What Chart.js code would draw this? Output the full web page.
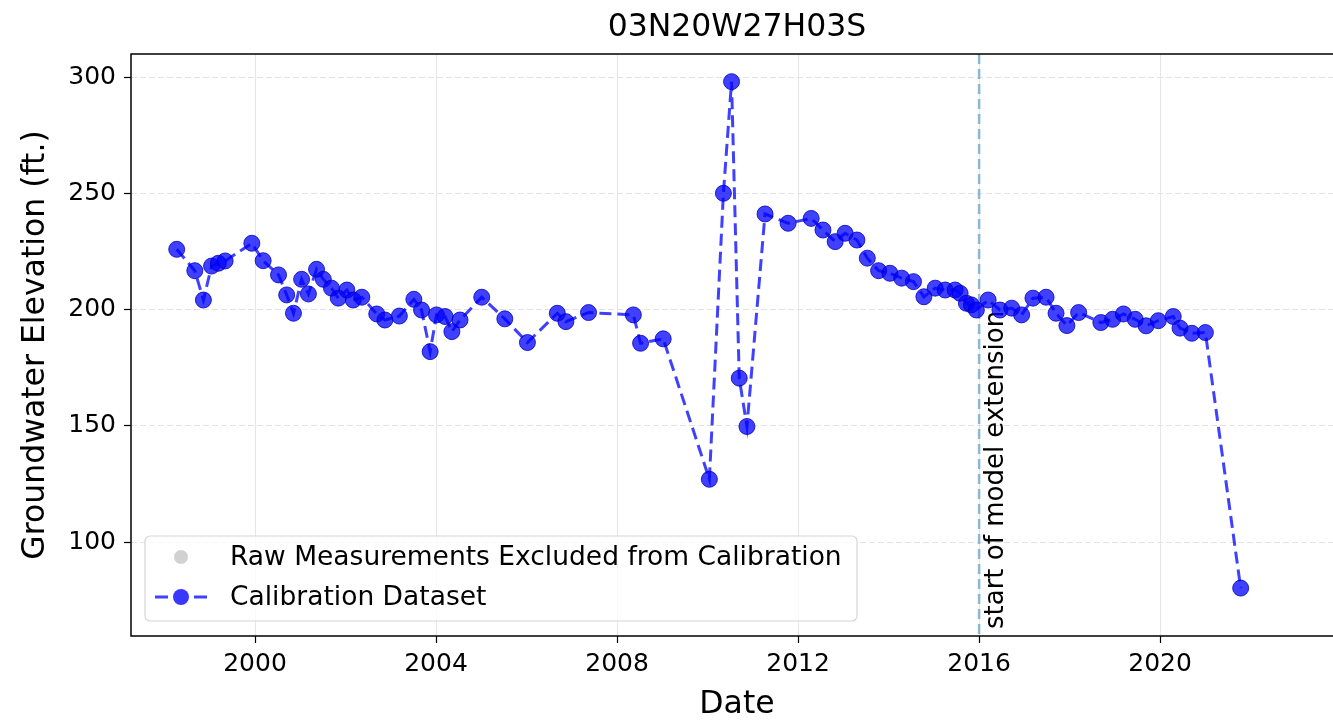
<!DOCTYPE html>
<html>
<head>
<meta charset="utf-8">
<script src="https://cdn.jsdelivr.net/npm/chart.js@4.4.0/dist/chart.umd.min.js"></script>
<style>
html,body{margin:0;overflow:hidden;background:#fff}
#wrap{width:1333px;height:723px}
</style>
</head>
<body>
<div id="wrap"><canvas id="chart" width="1333" height="723"></canvas></div>
<script>
// decimal years / groundwater elevation (ft.)
const dates = [1998.27,1998.67,1998.86,1999.04,1999.19,1999.34,1999.93,2000.18,2000.52,2000.70,
  2000.85,2001.03,2001.18,2001.36,2001.51,2001.69,2001.84,2002.03,2002.17,2002.36,
  2002.69,2002.87,2003.19,2003.51,2003.68,2003.87,2004.01,2004.20,2004.35,2004.53,
  2005.01,2005.52,2006.02,2006.68,2006.87,2007.37,2008.36,2008.52,2009.02,2010.04,
  2010.35,2010.53,2010.70,2010.87,2011.27,2011.78,2012.29,2012.55,2012.82,2013.04,
  2013.30,2013.53,2013.78,2014.03,2014.29,2014.55,2014.78,2015.03,2015.25,2015.47,
  2015.58,2015.72,2015.83,2015.94,2016.20,2016.46,2016.72,2016.94,2017.19,2017.48,
  2017.70,2017.94,2018.20,2018.69,2018.95,2019.19,2019.45,2019.69,2019.96,2020.29,
  2020.44,2020.70,2021.00,2021.78];
const elevation = [225.9,216.7,204.1,218.7,219.9,220.9,228.5,221.0,214.9,206.3,
  198.4,213.0,206.7,217.3,213.0,209.2,204.9,208.4,204.1,205.3,
  198.1,195.5,197.2,204.4,199.8,181.9,197.7,197.0,190.5,195.5,
  205.3,196.0,185.8,198.4,194.8,198.7,197.7,185.5,187.4,127.0,
  250.0,298.0,170.5,149.7,241.1,237.1,239.2,234.2,229.2,232.8,
  229.9,222.1,216.7,215.6,213.5,212.0,205.5,209.2,208.4,208.4,
  207.0,202.7,202.0,199.8,204.1,199.8,200.6,197.7,204.9,205.3,
  198.4,193.1,198.7,194.4,195.8,198.1,195.8,193.0,195.2,197.0,
  192.0,189.8,190.1,80.2];
const rawDates = [];
const rawElevation = [];
const yearTicks = [2000,2004,2008,2012,2016,2020];
const elevTicks = [100,150,200,250,300];
const extensionYear = 2016;

const FONT = "'DejaVu Sans', sans-serif";
const toPoints = (xs, ys) => xs.map((x, i) => ({x: x, y: ys[i]}));

const overlay = {
  id: 'overlay',
  beforeDatasetsDraw(chart) {
    const {ctx, chartArea, scales} = chart;
    const x = scales.x.getPixelForValue(extensionYear);
    ctx.save();
    ctx.strokeStyle = 'rgba(125,172,202,0.85)';
    ctx.lineWidth = 2.5;
    ctx.setLineDash([10, 5]);
    ctx.beginPath();
    ctx.moveTo(x, chartArea.top);
    ctx.lineTo(x, chartArea.bottom);
    ctx.stroke();
    ctx.setLineDash([]);
    ctx.translate(x + 24, chartArea.bottom - 7);
    ctx.rotate(-Math.PI / 2);
    ctx.fillStyle = '#000';
    ctx.font = '26px ' + FONT;
    ctx.textAlign = 'left';
    ctx.textBaseline = 'alphabetic';
    ctx.fillText('start of model extension', 0, 0);
    ctx.restore();
  },
  afterDraw(chart) {
    const {ctx, chartArea} = chart;
    const cx = 737;
    ctx.save();
    // frame (right side runs off the picture)
    ctx.strokeStyle = '#000';
    ctx.lineWidth = 1.5;
    ctx.beginPath();
    ctx.moveTo(chartArea.right + 2, chartArea.top);
    ctx.lineTo(chartArea.left, chartArea.top);
    ctx.lineTo(chartArea.left, chartArea.bottom);
    ctx.lineTo(chartArea.right + 2, chartArea.bottom);
    ctx.stroke();
    // titles
    ctx.fillStyle = '#000';
    ctx.textAlign = 'center';
    ctx.textBaseline = 'middle';
    ctx.font = '31.5px ' + FONT;
    ctx.fillText('03N20W27H03S', cx, 28);
    ctx.fillText('Date', cx, 705);
    ctx.save();
    ctx.translate(36, (chartArea.top + chartArea.bottom) / 2);
    ctx.rotate(-Math.PI / 2);
    ctx.fillText('Groundwater Elevation (ft.)', 0, 0);
    ctx.restore();
    // legend
    const bx = 145, by = 536, bw = 712, bh = 85, r = 5;
    ctx.beginPath();
    ctx.moveTo(bx + r, by);
    ctx.arcTo(bx + bw, by, bx + bw, by + bh, r);
    ctx.arcTo(bx + bw, by + bh, bx, by + bh, r);
    ctx.arcTo(bx, by + bh, bx, by, r);
    ctx.arcTo(bx, by, bx + bw, by, r);
    ctx.closePath();
    ctx.fillStyle = 'rgba(255,255,255,0.8)';
    ctx.fill();
    ctx.strokeStyle = '#d6d6d6';
    ctx.lineWidth = 1.2;
    ctx.stroke();
    ctx.fillStyle = 'rgba(190,190,190,0.7)';
    ctx.beginPath();
    ctx.arc(181, 557, 7, 0, Math.PI * 2);
    ctx.fill();
    ctx.strokeStyle = 'rgba(0,0,255,0.75)';
    ctx.lineWidth = 3;
    ctx.beginPath();
    ctx.moveTo(155, 597); ctx.lineTo(168, 597);
    ctx.moveTo(194, 597); ctx.lineTo(207, 597);
    ctx.stroke();
    ctx.fillStyle = 'rgba(0,0,255,0.78)';
    ctx.beginPath();
    ctx.arc(181, 597, 8, 0, Math.PI * 2);
    ctx.fill();
    ctx.fillStyle = '#000';
    ctx.textAlign = 'left';
    ctx.font = '26.5px ' + FONT;
    ctx.fillText('Raw Measurements Excluded from Calibration', 230, 558);
    ctx.fillText('Calibration Dataset', 230, 598);
    ctx.restore();
  }
};

new Chart(document.getElementById('chart'), {
  type: 'scatter',
  data: {
    datasets: [{
      label: 'Raw Measurements Excluded from Calibration',
      data: toPoints(rawDates, rawElevation),
      pointBackgroundColor: 'rgba(190,190,190,0.7)',
      pointBorderWidth: 0,
      pointRadius: 7,
      showLine: false
    }, {
      label: 'Calibration Dataset',
      data: toPoints(dates, elevation),
      showLine: true,
      borderColor: 'rgba(0,0,255,0.75)',
      borderWidth: 3,
      borderDash: [12, 6],
      pointRadius: 8,
      pointBackgroundColor: 'rgba(0,0,255,0.75)',
      pointBorderColor: 'rgba(0,0,190,0.8)',
      pointBorderWidth: 1
    }]
  },
  options: {
    responsive: false,
    animation: false,
    layout: {autoPadding: false, padding: {top: 54, left: 0, right: 0, bottom: 0}},
    plugins: {legend: {display: false}, tooltip: {enabled: false}},
    scales: {
      x: {
        type: 'linear',
        min: 1997.26,
        max: 2023.82,
        afterBuildTicks: s => { s.ticks = yearTicks.map(v => ({value: v})); },
        afterFit: s => { s.height = 87; s.paddingLeft = 0; s.paddingRight = 0; },
        grid: {color: '#e6e6e6', lineWidth: 1, tickColor: '#000', tickLength: 7, tickWidth: 1.2},
        border: {display: false},
        ticks: {color: '#000', font: {family: FONT, size: 25}, padding: 6, maxRotation: 0, callback: v => String(v)}
      },
      y: {
        min: 59.6,
        max: 309.9,
        afterBuildTicks: s => { s.ticks = elevTicks.map(v => ({value: v})); },
        afterFit: s => { s.width = 131; s.paddingTop = 0; s.paddingBottom = 0; },
        grid: {color: '#e2e2e2', lineWidth: 1, tickColor: '#000', tickLength: 7, tickWidth: 1.2},
        border: {display: false, dash: [6, 3]},
        ticks: {color: '#000', font: {family: FONT, size: 25}, padding: 8, callback: v => String(v)}
      }
    }
  },
  plugins: [overlay]
});
</script>
</body>
</html>
